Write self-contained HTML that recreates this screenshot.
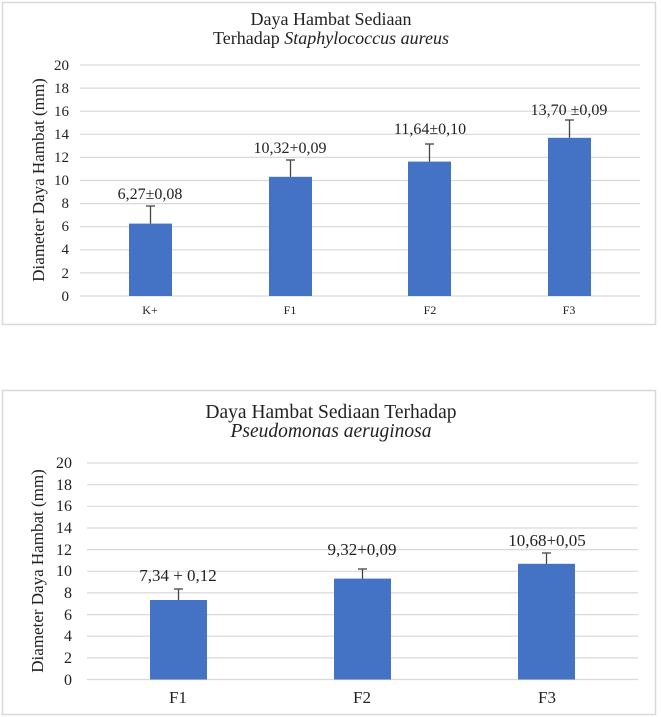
<!DOCTYPE html>
<html><head><meta charset="utf-8"><style>
html,body{margin:0;padding:0;background:#fff;}
svg{display:block;font-family:"Liberation Serif",serif;}
</style></head><body>
<svg width="661" height="717" viewBox="0 0 661 717">
<rect x="0" y="0" width="661" height="717" fill="#fff"/>
<!-- Chart 1 -->
<rect x="2.5" y="2.5" width="653" height="322" fill="#fff" stroke="#d9d9d9" stroke-width="1.5"/>
<text x="331" y="25" font-size="18" text-anchor="middle" fill="#222">Daya Hambat Sediaan</text>
<text x="331" y="44" font-size="18" text-anchor="middle" fill="#222">Terhadap <tspan font-style="italic">Staphylococcus aureus</tspan></text>
<g stroke="#d9d9d9" stroke-width="1.2">
<line x1="80" x2="640" y1="65" y2="65"/><line x1="80" x2="640" y1="88.1" y2="88.1"/><line x1="80" x2="640" y1="111.2" y2="111.2"/><line x1="80" x2="640" y1="134.3" y2="134.3"/><line x1="80" x2="640" y1="157.4" y2="157.4"/><line x1="80" x2="640" y1="180.5" y2="180.5"/><line x1="80" x2="640" y1="203.6" y2="203.6"/><line x1="80" x2="640" y1="226.7" y2="226.7"/><line x1="80" x2="640" y1="249.8" y2="249.8"/><line x1="80" x2="640" y1="272.9" y2="272.9"/><line x1="80" x2="640" y1="296" y2="296"/>
</g>
<g font-size="15" text-anchor="end" fill="#222">
<text x="69" y="70">20</text><text x="69" y="93">18</text><text x="69" y="116">16</text><text x="69" y="139">14</text><text x="69" y="162">12</text><text x="69" y="185">10</text><text x="69" y="208">8</text><text x="69" y="231">6</text><text x="69" y="254">4</text><text x="69" y="278">2</text><text x="69" y="301">0</text>
</g>
<text transform="translate(44,180) rotate(-90)" font-size="17" text-anchor="middle" fill="#222">Diameter Daya Hambat (mm)</text>
<g fill="#4472c4">
<rect x="129" y="223.6" width="43" height="72.4"/>
<rect x="269" y="176.8" width="43" height="119.2"/>
<rect x="408" y="161.6" width="43" height="134.4"/>
<rect x="548" y="137.8" width="43" height="158.2"/>
</g>
<g stroke="#444" stroke-width="1.3">
<line x1="150.5" x2="150.5" y1="223.6" y2="206"/><line x1="146" x2="155" y1="206" y2="206"/>
<line x1="290.5" x2="290.5" y1="176.8" y2="160"/><line x1="286" x2="295" y1="160" y2="160"/>
<line x1="429.5" x2="429.5" y1="161.6" y2="144"/><line x1="425" x2="434" y1="144" y2="144"/>
<line x1="569.5" x2="569.5" y1="137.8" y2="120"/><line x1="565" x2="574" y1="120" y2="120"/>
</g>
<g font-size="16" text-anchor="middle" fill="#222">
<text x="150" y="199">6,27±0,08</text>
<text x="290" y="153">10,32+0,09</text>
<text x="430" y="134">11,64±0,10</text>
<text x="569" y="115">13,70 ±0,09</text>
</g>
<g font-size="12" text-anchor="middle" fill="#222">
<text x="150" y="314">K+</text><text x="290" y="314">F1</text><text x="430" y="314">F2</text><text x="569" y="314">F3</text>
</g>
<!-- Chart 2 -->
<rect x="2.5" y="390.5" width="653" height="324" fill="#fff" stroke="#d9d9d9" stroke-width="1.5"/>
<text x="331" y="418" font-size="19.5" text-anchor="middle" fill="#222">Daya Hambat Sediaan Terhadap</text>
<text x="331" y="437" font-size="19.5" text-anchor="middle" font-style="italic" fill="#222">Pseudomonas aeruginosa</text>
<g stroke="#d9d9d9" stroke-width="1.2">
<line x1="87" x2="638" y1="463" y2="463"/><line x1="87" x2="638" y1="484.7" y2="484.7"/><line x1="87" x2="638" y1="506.3" y2="506.3"/><line x1="87" x2="638" y1="528" y2="528"/><line x1="87" x2="638" y1="549.6" y2="549.6"/><line x1="87" x2="638" y1="571.3" y2="571.3"/><line x1="87" x2="638" y1="592.9" y2="592.9"/><line x1="87" x2="638" y1="614.6" y2="614.6"/><line x1="87" x2="638" y1="636.2" y2="636.2"/><line x1="87" x2="638" y1="657.9" y2="657.9"/><line x1="87" x2="638" y1="679.5" y2="679.5"/>
</g>
<g font-size="16" text-anchor="end" fill="#222">
<text x="72" y="468">20</text><text x="72" y="490">18</text><text x="72" y="511">16</text><text x="72" y="533">14</text><text x="72" y="555">12</text><text x="72" y="576">10</text><text x="72" y="598">8</text><text x="72" y="620">6</text><text x="72" y="641">4</text><text x="72" y="663">2</text><text x="72" y="685">0</text>
</g>
<text transform="translate(43,571) rotate(-90)" font-size="17" text-anchor="middle" fill="#222">Diameter Daya Hambat (mm)</text>
<g fill="#4472c4">
<rect x="150" y="600" width="57" height="79.5"/>
<rect x="334" y="578.6" width="57" height="100.9"/>
<rect x="518" y="563.8" width="57" height="115.7"/>
</g>
<g stroke="#444" stroke-width="1.3">
<line x1="178.5" x2="178.5" y1="600" y2="589"/><line x1="174" x2="183" y1="589" y2="589"/>
<line x1="362.5" x2="362.5" y1="578.6" y2="569"/><line x1="358" x2="367" y1="569" y2="569"/>
<line x1="546.5" x2="546.5" y1="563.8" y2="553"/><line x1="542" x2="551" y1="553" y2="553"/>
</g>
<g font-size="17" text-anchor="middle" fill="#222">
<text x="178" y="581">7,34 + 0,12</text>
<text x="362" y="555">9,32+0,09</text>
<text x="547" y="546">10,68+0,05</text>
</g>
<g font-size="17" text-anchor="middle" fill="#222">
<text x="178" y="703">F1</text><text x="362" y="703">F2</text><text x="547" y="703">F3</text>
</g>
</svg>
</body></html>
